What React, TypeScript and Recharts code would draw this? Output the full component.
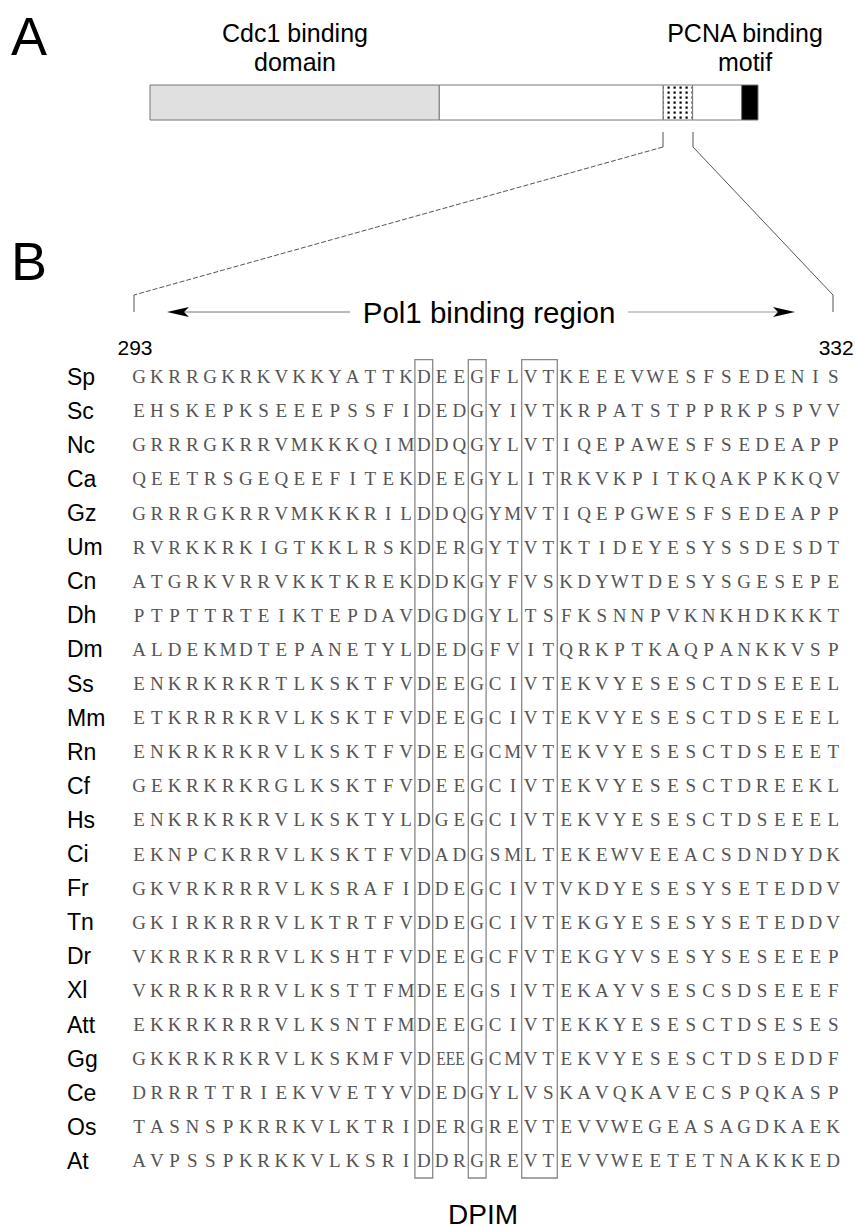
import React from "react";
import { ScatterChart, Scatter, XAxis, YAxis, ReferenceArea, BarChart, Bar } from "recharts";

// alignment of the Pol1 binding region, residues 293-332 of S. pombe Cdc27
const START_RESIDUE = 293;
const END_RESIDUE = 332;

const SPECIES = [
  "Sp", "Sc", "Nc", "Ca", "Gz", "Um", "Cn", "Dh", "Dm", "Ss", "Mm", "Rn",
  "Cf", "Hs", "Ci", "Fr", "Tn", "Dr", "Xl", "Att", "Gg", "Ce", "Os", "At",
];

// "-" marks columns taken by an insertion (see INSERTIONS)
const SEQUENCES = [
  "GKRRGKRKVKKYATTKDEEGFLVTKEEEVWESFSEDENIS",
  "EHSKEPKSEEEPSSFIDEDGYIVTKRPATSTPPRKPSPVV",
  "GRRRGKRRVMKKKQIMDDQGYLVTIQEPAWESFSEDEAPP",
  "QEETRSGEQEEFITEKDEEGYLITRKVKPITKQAKPKKQV",
  "GRRRGKRRVMKKKRILDDQGYMVTIQEPGWESFSEDEAPP",
  "RVRKKRKIGTKKLRSKDERGYTVTKTIDEYESYSSDESDT",
  "ATGRKVRRVKKTKREKDDKGYFVSKDYWTDESYSGESEPE",
  "PTPTTRTEIKTEPDAVDGDGYLTSFKSNNPVKNKHDKKKT",
  "ALDEKMDTEPANETYLDEDGFVITQRKPTKAQPANKKVSP",
  "ENKRKRKRTLKSKTFVDEEGCIVTEKVYESESCTDSEEEL",
  "ETKRRRKRVLKSKTFVDEEGCIVTEKVYESESCTDSEEEL",
  "ENKRKRKRVLKSKTFVDEEGCMVTEKVYESESCTDSEEET",
  "GEKRKRKRGLKSKTFVDEEGCIVTEKVYESESCTDREEKL",
  "ENKRKRKRVLKSKTYLDGEGCIVTEKVYESESCTDSEEEL",
  "EKNPCKRRVLKSKTFVDADGSMLTEKEWVEEACSDNDYDK",
  "GKVRKRRRVLKSRAFIDDEGCIVTVKDYESESYSETEDDV",
  "GKIRKRRRVLKTRTFVDDEGCIVTEKGYESESYSETEDDV",
  "VKRRKRRRVLKSHTFVDEEGCFVTEKGYVSESYSESEEEP",
  "VKRRKRRRVLKSTTFMDEEGSIVTEKAYVSESCSDSEEEF",
  "EKKRKRRRVLKSNTFMDEEGCIVTEKKYESESCTDSESES",
  "GKKRKRKRVLKSKMFVD--GCMVTEKVYESESCTDSEDDF",
  "DRRRTTRIEKVVETYVDEDGYLVSKAVQKAVECSPQKASP",
  "TASNSPKRRKVLKTRIDERGREVTEVVWEGEASAGDKAEK",
  "AVPSSPKRKKVLKSRIDDRGREVTEVVWEETETNAKKKED",
];

const INSERTIONS = [{ species: "Gg", from: 17, to: 18, text: "EEE" }];

// conserved columns (0-based), boxed
const MOTIF_BOXES = [
  { from: 16, to: 16 },
  { from: 19, to: 19 },
  { from: 22, to: 23 },
];

// protein schematic, lengths in residues
const SEGMENT_NAMES = ["cdc1", "linker", "dpim", "spacer", "pcna"];
const SEGMENT_LENGTHS = [177, 137, 18, 30, 10];
const SEGMENT_FILLS = ["#e0e0e0", "#ffffff", "url(#dots)", "#ffffff", "#000000"];

const COLS = SEQUENCES[0].length;

const residues = SEQUENCES.flatMap((seq, row) =>
  seq
    .split("")
    .map((ch, col) => ({ col, row, ch }))
    .filter((d) => d.ch !== "-")
);
const insertions = INSERTIONS.map((ins) => ({
  col: (ins.from + ins.to) / 2,
  row: SPECIES.indexOf(ins.species),
  ch: ins.text,
  width: ins.to - ins.from + 1,
}));

const proteinRow = [
  SEGMENT_NAMES.reduce((acc, k, i) => ({ ...acc, [k]: SEGMENT_LENGTHS[i] }), { name: "Cdc27" } as any),
];
const proteinLength = SEGMENT_LENGTHS.reduce((a, b) => a + b, 0);

const SANS = "Liberation Sans, Arial, sans-serif";
const SEQ_FONT = "Liberation Serif, Times New Roman, serif";
const COL_W = 17.8;

const ResidueShape = (props: any) => {
  const { cx, cy, payload } = props;
  if (payload.width) {
    return (
      <text x={cx} y={cy} dy={6} textAnchor="middle" fontFamily={SEQ_FONT} fontSize={18}
        fill="#555" textLength={payload.width * COL_W - 7} lengthAdjust="spacingAndGlyphs">
        {payload.ch}
      </text>
    );
  }
  return (
    <text x={cx} y={cy} dy={6.5} textAnchor="middle" fontFamily={SEQ_FONT} fontSize={19} fill="#555">
      {payload.ch}
    </text>
  );
};

const SpeciesTick = (props: any) => {
  const { y, payload } = props;
  return (
    <text x={67} y={y} dy={8} fontFamily={SANS} fontSize={23} fill="#000">
      {SPECIES[payload.value]}
    </text>
  );
};

const ResidueTick = (props: any) => {
  const { x, payload } = props;
  return (
    <text x={x + (payload.value === 0 ? -4 : 3)} y={355} textAnchor="middle" fontFamily={SANS}
      fontSize={21} fill="#000">
      {START_RESIDUE + payload.value}
    </text>
  );
};

export default function App() {
  return (
    <div style={{ position: "relative", width: 857, height: 1226, background: "#fff" }}>
      <style>{"body{margin:0}"}</style>
      <svg width={0} height={0} style={{ position: "absolute" }}>
        <defs>
          <pattern id="dots" width={6} height={5} patternUnits="userSpaceOnUse">
            <rect width={6} height={5} fill="#fff" />
            <rect x={1.5} y={1.5} width={2.2} height={2.2} fill="#000" />
          </pattern>
        </defs>
      </svg>

      <div style={{ position: "absolute", left: 0, top: 0 }}>
        <BarChart width={857} height={140} data={proteinRow} layout="vertical"
          margin={{ top: 85, right: 99, bottom: 20, left: 150 }} barCategoryGap={0}>
          <XAxis type="number" domain={[0, proteinLength]} hide />
          <YAxis type="category" dataKey="name" hide />
          {SEGMENT_NAMES.map((k, i) => (
            <Bar key={k} dataKey={k} stackId="p" fill={SEGMENT_FILLS[i]} stroke="#777"
              strokeWidth={1} isAnimationActive={false} />
          ))}
        </BarChart>
      </div>

      <div style={{ position: "absolute", left: 0, top: 0 }}>
        <ScatterChart width={857} height={1226}
          margin={{ top: 339.6, right: 14.9, bottom: 48, left: 60.1 }}>
          <XAxis type="number" dataKey="col" domain={[-0.5, COLS - 0.5]} orientation="top"
            height={20} ticks={[0, END_RESIDUE - START_RESIDUE]} interval={0}
            axisLine={false} tickLine={false} tick={<ResidueTick />} />
          <YAxis type="number" dataKey="row" domain={[-0.5, SPECIES.length - 0.5]} reversed
            width={70} ticks={SPECIES.map((_, i) => i)} interval={0}
            axisLine={false} tickLine={false} tick={<SpeciesTick />} />
          {MOTIF_BOXES.map((b, i) => (
            <ReferenceArea key={i} x1={b.from - 0.5} x2={b.to + 0.5} y1={-0.5}
              y2={SPECIES.length - 0.5} fill="none" fillOpacity={0} stroke="#888"
              strokeWidth={1.3} ifOverflow="visible" />
          ))}
          <Scatter data={residues} shape={<ResidueShape />} isAnimationActive={false} />
          <Scatter data={insertions} shape={<ResidueShape />} isAnimationActive={false} />
        </ScatterChart>
      </div>

      <svg width={857} height={1226} style={{ position: "absolute", left: 0, top: 0, pointerEvents: "none" }}
        fontFamily={SANS}>
        <text x={11} y={55} fontSize={54}>A</text>
        <text x={11} y={280} fontSize={54}>B</text>

        <text x={295} y={42} fontSize={25} textAnchor="middle">Cdc1 binding</text>
        <text x={295} y={71} fontSize={25} textAnchor="middle">domain</text>
        <text x={745} y={42} fontSize={25} textAnchor="middle">PCNA binding</text>
        <text x={745} y={71} fontSize={25} textAnchor="middle">motif</text>

        <line x1={663} y1={132} x2={663} y2={147} stroke="#555" strokeWidth={1} />
        <line x1={693} y1={132} x2={693} y2={147} stroke="#555" strokeWidth={1} />
        <line x1={663} y1={147} x2={134} y2={295} stroke="#555" strokeWidth={1} strokeDasharray="5 2" />
        <line x1={693} y1={147} x2={833} y2={295} stroke="#555" strokeWidth={1} />
        <line x1={134} y1={295} x2={134} y2={312} stroke="#555" strokeWidth={1} />
        <line x1={833} y1={295} x2={833} y2={312} stroke="#555" strokeWidth={1} />

        <line x1={180} y1={312} x2={350} y2={312} stroke="#777" strokeWidth={1} />
        <polygon points="167,312 189,307 184,312 189,317" fill="#000" />
        <line x1={628} y1={312} x2={785} y2={312} stroke="#999" strokeWidth={1} />
        <polygon points="795,312 773,307 778,312 773,317" fill="#000" />
        <text x={489} y={323} fontSize={29.5} textAnchor="middle">Pol1 binding region</text>

        <text x={483} y={1224} fontSize={28} textAnchor="middle">DPIM</text>
      </svg>
    </div>
  );
}
